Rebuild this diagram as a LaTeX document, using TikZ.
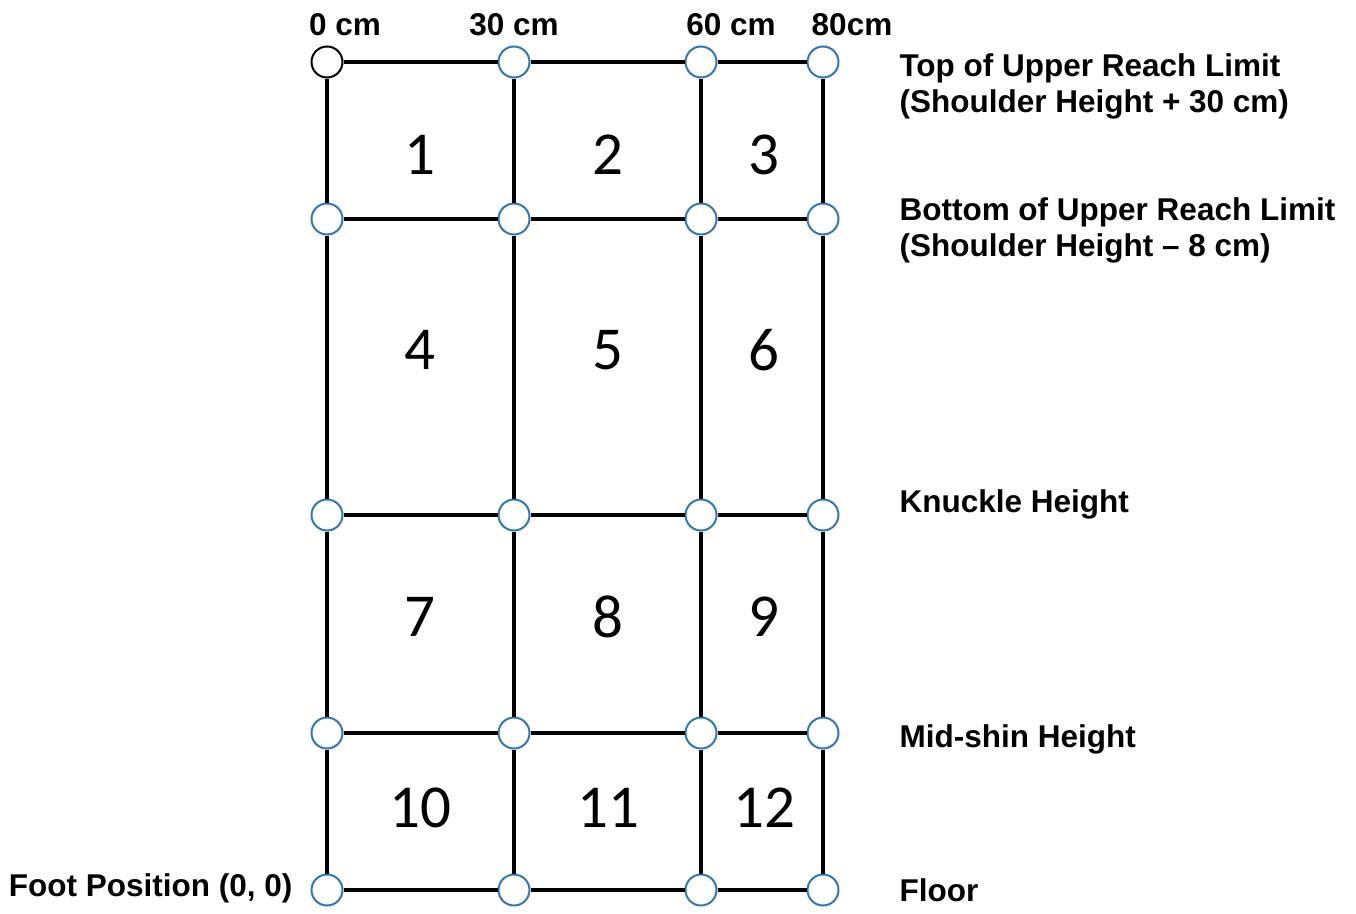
\documentclass[tikz,border=0pt]{standalone}
\usepackage{fontspec}
\setmainfont{Liberation Sans}
\newfontfamily\cellfont{Carlito}
\definecolor{ringblue}{RGB}{52,118,180}

\tikzset{
  pt/.style={circle, minimum size=31pt, inner sep=0pt, fill=white, line width=2pt},
  gridline/.style={line width=4pt},
  cellno/.style={font=\cellfont\fontsize{61}{61}\selectfont},
  lbl/.style={font=\bfseries\fontsize{31.5}{36}\selectfont, align=left}
}

\begin{document}
\begin{tikzpicture}[x=1pt, y=-1pt]
  \useasboundingbox (0,0) rectangle (1356,913);
  % reach points: columns at 0/30/60/80 cm, rows from upper reach limit down to floor
  \foreach \c/\x in {0/327,1/514,2/701,3/823}
    \foreach \r/\y in {0/62,1/219,2/515,3/733,4/890} {
      \ifnum\c\r=0 \def\ring{black}\else\def\ring{ringblue}\fi
      \node[pt, draw=\ring] (p\c\r) at (\x,\y) {};
    }
  % grid lines between neighbouring points
  \foreach \r in {0,...,4}
    \foreach \a/\b in {0/1,1/2,2/3}
      \draw[gridline] (p\a\r) -- (p\b\r);
  \foreach \c in {0,...,3}
    \foreach \a/\b in {0/1,1/2,2/3,3/4}
      \draw[gridline] (p\c\a) -- (p\c\b);
  % zone numbers
  \foreach \n/\x/\y in {1/420/155,2/608/155,3/764/155,
                        4/420/350,5/608/350,6/764/350,
                        7/420/617,8/608/617,9/764/617,
                        10/420/808,11/608/808,12/764/808}
    \node[cellno] (z\n) at (\x,\y) {\n};
  % distances from the foot
  \node[lbl] (d0) at (345,25) {0 cm};
  \node[lbl] (d30) at (514,25) {30 cm};
  \node[lbl] (d60) at (731,25) {60 cm};
  \node[lbl] (d80) at (852,25) {80cm};
  % heights
  \node[lbl, anchor=west] (top) at (896,86) {Top of Upper Reach Limit\\(Shoulder Height + 30 cm)};
  \node[lbl, anchor=west] (bottom) at (896,230) {Bottom of Upper Reach Limit\\(Shoulder Height -- 8 cm)};
  \node[lbl, anchor=west] (knuckle) at (896,504) {Knuckle Height};
  \node[lbl, anchor=west] (shin) at (896,739) {Mid-shin Height};
  \node[lbl, anchor=west] (floor) at (896,890) {Floor};
  \node[lbl, anchor=east] (foot) at (296,888) {Foot Position (0, 0)};
\end{tikzpicture}
\end{document}
